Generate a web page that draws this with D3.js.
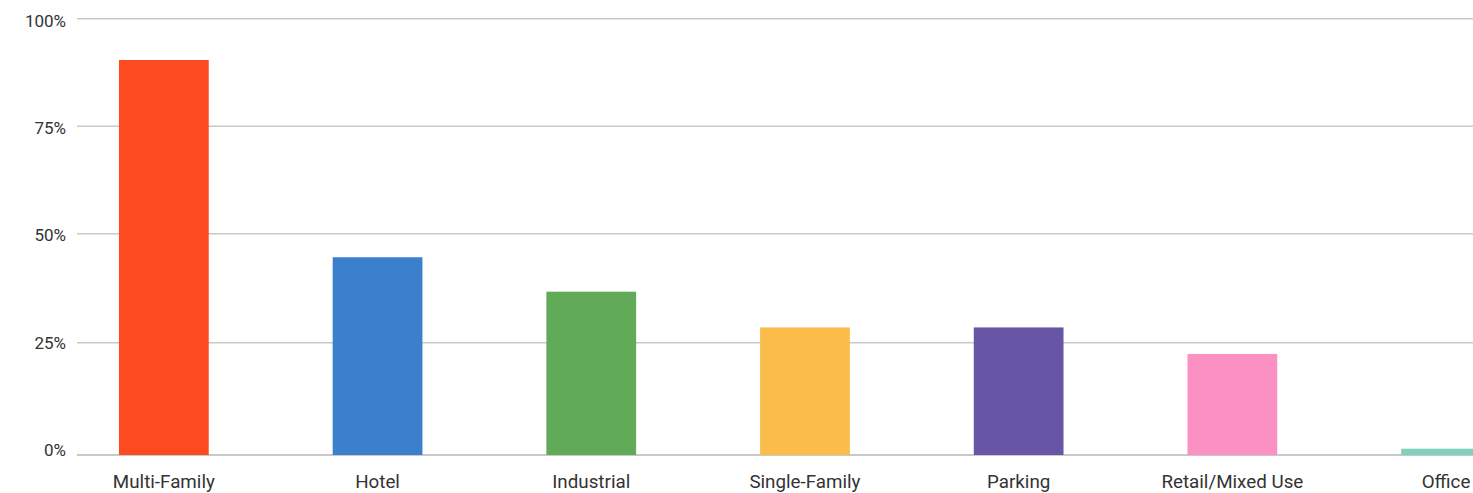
<!DOCTYPE html>
<html>
<head>
<meta charset="utf-8">
<script src="https://cdn.jsdelivr.net/npm/d3@7"></script>
<style>
  html, body { margin: 0; padding: 0; background: #fff; overflow: hidden; }
  svg { display: block; font-family: Roboto, "Noto Sans", sans-serif; }
</style>
</head>
<body>
<div id="chart"></div>
<script>
'use strict';
// chart data
const categories = ["Multi-Family", "Hotel", "Industrial", "Single-Family", "Parking", "Retail/Mixed Use", "Office"];
const shares = [90.4, 44.6, 36.7, 28.5, 28.5, 22.5, 1.4];
const barColors = ["#fd4a20", "#3b7fcd", "#61ab58", "#fbbc4a", "#6755a6", "#fb91c3", "#80d1bd"];
const yTicks = [0, 25, 50, 75, 100];

(function () {
  const width = 1473, height = 493;
  const svg = d3.select("#chart").append("svg")
    .attr("width", width)
    .attr("height", height);

  // band scale runs past the right edge, the last bar is clipped like in the original
  const step = 213.7;
  const x = d3.scaleBand()
    .domain(categories)
    .range([57, 57 + step * categories.length])
    .paddingInner(0.58)
    .paddingOuter(0.29);

  // gridlines in the original are not quite evenly spaced
  const y = d3.scaleLinear().domain(yTicks).range([455, 342.7, 233.7, 126.3, 18.7]);
  // tick labels sit on their own even spacing (baselines)
  const yLabel = d3.scaleLinear().domain([0, 100]).range([456, 26.7]);

  // gridlines
  svg.append("g")
    .selectAll("line")
    .data(yTicks)
    .join("line")
      .attr("x1", 77)
      .attr("x2", width)
      .attr("y1", d => y(d))
      .attr("y2", d => y(d))
      .attr("stroke", "#c9c9c9")
      .attr("stroke-width", d => d === 0 ? 2 : 1.5);

  // y tick labels
  svg.append("g")
    .selectAll("text")
    .data(yTicks)
    .join("text")
      .attr("x", 66)
      .attr("y", d => yLabel(d))
      .attr("text-anchor", "end")
      .attr("fill", "#333")
      .style("font-size", "17px")
      .text(d => d + "%");

  // bars
  svg.append("g")
    .selectAll("rect")
    .data(categories)
    .join("rect")
      .attr("x", d => x(d))
      .attr("y", (d, i) => y(shares[i]))
      .attr("width", x.bandwidth())
      .attr("height", (d, i) => y(0) - y(shares[i]))
      .attr("fill", (d, i) => barColors[i]);

  // category labels
  svg.append("g")
    .selectAll("text")
    .data(categories)
    .join("text")
      .attr("x", d => x(d) + x.bandwidth() / 2)
      .attr("y", 488)
      .attr("text-anchor", "middle")
      .attr("fill", "#333")
      .style("font-size", "18.8px")
      .text(d => d);
})();
</script>
</body>
</html>
